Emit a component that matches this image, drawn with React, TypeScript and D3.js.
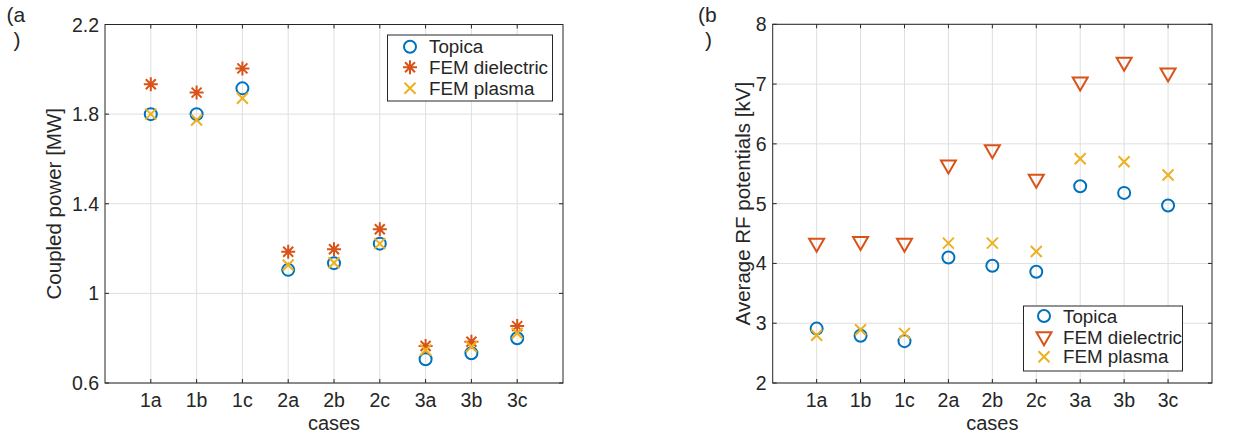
import React from 'react';
import * as d3 from 'd3';

const cases = ['1a', '1b', '1c', '2a', '2b', '2c', '3a', '3b', '3c'];

// panel (a) coupled power [MW]
const powerTopica = [1.80, 1.80, 1.915, 1.105, 1.135, 1.222, 0.706, 0.733, 0.800];
const powerDielectric = [1.933, 1.896, 2.004, 1.186, 1.197, 1.286, 0.765, 0.784, 0.854];
const powerPlasma = [1.80, 1.774, 1.871, 1.127, 1.137, 1.222, 0.747, 0.762, 0.822];
const powerTicks = [0.6, 1, 1.4, 1.8, 2.2];

// panel (b) average RF potentials [kV]
const potTopica = [2.91, 2.79, 2.70, 4.10, 3.96, 3.86, 5.29, 5.18, 4.97];
const potDielectric = [4.32, 4.35, 4.32, 5.63, 5.885, 5.39, 7.02, 7.35, 7.17];
const potPlasma = [2.80, 2.89, 2.83, 4.34, 4.34, 4.20, 5.75, 5.70, 5.48];
const potTicks = [2, 3, 4, 5, 6, 7, 8];

const seriesNames = ['Topica', 'FEM dielectric', 'FEM plasma'];
const BLUE = '#0072BD';
const ORANGE = '#D95319';
const YELLOW = '#EDB120';
const AXIS = '#262626';
const GRID = '#dfdfdf';
const FONT = '"Liberation Sans", Arial, Helvetica, sans-serif';

type MarkerKind = 'circle' | 'asterisk' | 'x' | 'tri';

// draws one marker centred at (0,0)
const Marker = ({ kind, color }: { kind: MarkerKind; color: string }) => {
    if (kind === 'circle') {
        return <circle r={6} fill="none" stroke={color} strokeWidth={2} />;
    }
    if (kind === 'x') {
        const s = 5.5;
        return (
            <path d={`M${-s},${-s}L${s},${s}M${-s},${s}L${s},${-s}`} stroke={color} strokeWidth={2} fill="none" />
        );
    }
    if (kind === 'asterisk') {
        const s = 7, d = 5;
        return (
            <path
                d={`M0,${-s}L0,${s}M${-s},0L${s},0M${-d},${-d}L${d},${d}M${-d},${d}L${d},${-d}`}
                stroke={color} strokeWidth={2} fill="none"
            />
        );
    }
    // downward triangle
    return <path d="M-7.5,-5.5L7.5,-5.5L0,7.5Z" fill="none" stroke={color} strokeWidth={2} strokeLinejoin="miter" />;
};

type PanelProps = {
    left: number; top: number; right: number; bottom: number;
    domain: [number, number];
    ticks: number[];
    fmt: (v: number) => string;
    series: { values: number[]; kind: MarkerKind; color: string }[];
    yLabel: string;
    yLabelX: number;
    tag: string;
    tagX: number;
    legend: { x: number; y: number; w: number; h: number; markerX: number; textX: number; rows: number[] };
};

const Panel = (p: PanelProps) => {
    const x = d3.scaleLinear().domain([0, cases.length + 1]).range([p.left, p.right]);
    const y = d3.scaleLinear().domain(p.domain).range([p.bottom, p.top]);
    const tickLen = 4;
    const xs = cases.map((_, i) => x(i + 1));

    return (
        <g fontFamily={FONT} fill={AXIS}>
            {/* grid */}
            {xs.map((v, i) => (
                <line key={'gx' + i} x1={v} x2={v} y1={p.top} y2={p.bottom} stroke={GRID} strokeWidth={1} />
            ))}
            {p.ticks.map((t, i) => (
                <line key={'gy' + i} x1={p.left} x2={p.right} y1={y(t)} y2={y(t)} stroke={GRID} strokeWidth={1} />
            ))}

            {/* tick marks on all four sides */}
            {xs.map((v, i) => (
                <g key={'tx' + i} stroke={AXIS} strokeWidth={1}>
                    <line x1={v} x2={v} y1={p.bottom} y2={p.bottom - tickLen} />
                    <line x1={v} x2={v} y1={p.top} y2={p.top + tickLen} />
                </g>
            ))}
            {p.ticks.map((t, i) => (
                <g key={'ty' + i} stroke={AXIS} strokeWidth={1}>
                    <line x1={p.left} x2={p.left + tickLen} y1={y(t)} y2={y(t)} />
                    <line x1={p.right} x2={p.right - tickLen} y1={y(t)} y2={y(t)} />
                </g>
            ))}
            <rect x={p.left} y={p.top} width={p.right - p.left} height={p.bottom - p.top}
                fill="none" stroke={AXIS} strokeWidth={1} />

            {/* tick labels */}
            {cases.map((c, i) => (
                <text key={'lx' + i} x={xs[i]} y={p.bottom + 23.5} textAnchor="middle" fontSize={19.5}>{c}</text>
            ))}
            {p.ticks.map((t, i) => (
                <text key={'ly' + i} x={p.left - 6} y={y(t) + 7} textAnchor="end" fontSize={19.5}>{p.fmt(t)}</text>
            ))}

            {/* axis labels */}
            <text x={(p.left + p.right) / 2} y={p.bottom + 47} textAnchor="middle" fontSize={20}>cases</text>
            <text transform={`translate(${p.yLabelX},${(p.top + p.bottom) / 2}) rotate(-90)`}
                textAnchor="middle" fontSize={20.5}>{p.yLabel}</text>

            {/* panel tag */}
            <text x={p.tagX} y={22} fontSize={21}>{'(' + p.tag}</text>
            <text x={p.tagX + 7} y={47} fontSize={21}>)</text>

            {/* data */}
            {p.series.map((s, si) => (
                <g key={'s' + si}>
                    {s.values.map((v, i) => (
                        <g key={i} transform={`translate(${xs[i]},${y(v)})`}>
                            <Marker kind={s.kind} color={s.color} />
                        </g>
                    ))}
                </g>
            ))}

            {/* legend */}
            <rect x={p.legend.x} y={p.legend.y} width={p.legend.w} height={p.legend.h}
                fill="#fff" stroke={AXIS} strokeWidth={1} />
            {p.series.map((s, si) => (
                <g key={'lg' + si}>
                    <g transform={`translate(${p.legend.markerX},${p.legend.rows[si]})`}>
                        <Marker kind={s.kind} color={s.color} />
                    </g>
                    <text x={p.legend.textX} y={p.legend.rows[si] + 6.5} fontSize={18.8}>{seriesNames[si]}</text>
                </g>
            ))}
        </g>
    );
};

const fmtPower = (v: number) => (v === 1 ? '1' : d3.format('.1f')(v));
const fmtPot = (v: number) => String(v);

export default function App() {
    return (
        <svg width={1234} height={436} style={{ position: 'absolute', left: 0, top: 0, background: '#fff' }}>
            <Panel
                left={105} top={24.5} right={563} bottom={383}
                domain={[0.6, 2.2]} ticks={powerTicks} fmt={fmtPower}
                series={[
                    { values: powerTopica, kind: 'circle', color: BLUE },
                    { values: powerDielectric, kind: 'asterisk', color: ORANGE },
                    { values: powerPlasma, kind: 'x', color: YELLOW },
                ]}
                yLabel="Coupled power [MW]" yLabelX={61}
                tag="a" tagX={6.5}
                legend={{ x: 387.5, y: 35, w: 165, h: 66, markerX: 410, textX: 429, rows: [46.7, 67.3, 88.3] }}
            />
            <Panel
                left={772.7} top={24.3} right={1212} bottom={383}
                domain={[2, 8]} ticks={potTicks} fmt={fmtPot}
                series={[
                    { values: potTopica, kind: 'circle', color: BLUE },
                    { values: potDielectric, kind: 'tri', color: ORANGE },
                    { values: potPlasma, kind: 'x', color: YELLOW },
                ]}
                yLabel="Average RF potentials [kV]" yLabelX={750}
                tag="b" tagX={698}
                legend={{ x: 1023.5, y: 306, w: 159, h: 65, markerX: 1044, textX: 1063, rows: [316, 337.7, 356.7] }}
            />
        </svg>
    );
}
